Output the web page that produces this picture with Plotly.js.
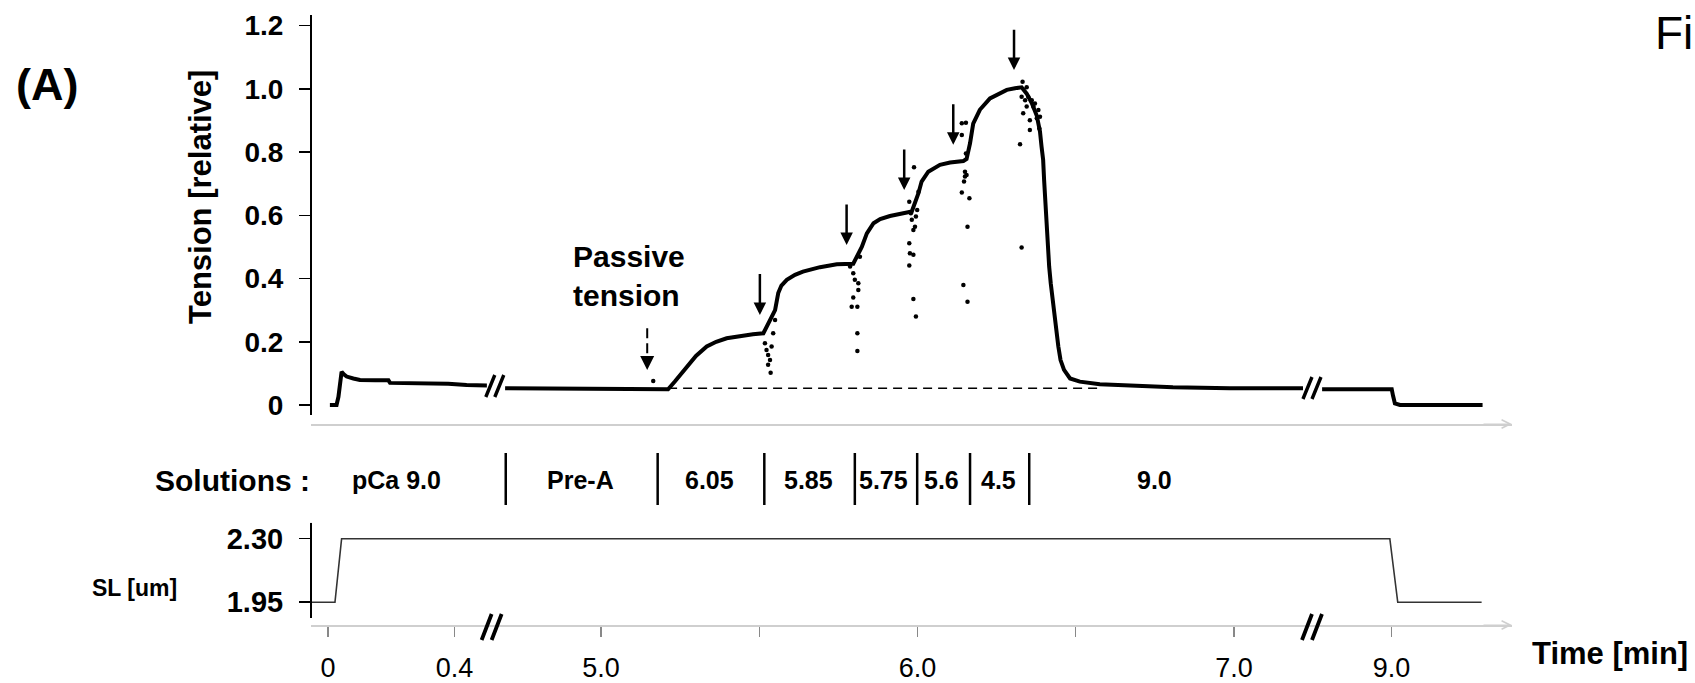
<!DOCTYPE html>
<html>
<head>
<meta charset="utf-8">
<script src="https://cdn.plot.ly/plotly-3.0.1.min.js"></script>
<style>
html,body{margin:0;padding:0;background:#fff;}
#chart{width:1695px;height:683px;}
</style>
</head>
<body>
<div id="chart"></div>
<script>
// ---------------- DATA (time in minutes, real time of the recording) ----------------
// Main tension trace (relative tension)
const tensionTime = [
  0.006, 0.017, 0.027, 0.033, 0.038, 0.043, 0.050, 0.059, 0.080, 0.101, 0.150, 0.191, 0.196, 0.291, 0.380, 0.438, 0.502,
  4.697, 4.850, 4.997, 5.100, 5.164, 5.186, 5.212, 5.234, 5.252, 5.271, 5.300, 5.334, 5.364, 5.397, 5.439, 5.480, 5.513,
  5.550, 5.560, 5.570, 5.587, 5.613, 5.638, 5.692, 5.745, 5.797,
  5.824, 5.840, 5.861, 5.882, 5.913, 5.945, 5.982,
  6.003, 6.013, 6.034, 6.071, 6.103, 6.145, 6.155,
  6.166, 6.176, 6.197, 6.229, 6.261, 6.282, 6.308, 6.329, 6.345, 6.361, 6.377,
  6.387, 6.392, 6.397, 6.400, 6.403, 6.406, 6.408, 6.413, 6.416, 6.421, 6.427, 6.431, 6.437, 6.445, 6.452, 6.463, 6.482,
  6.513, 6.576, 6.629, 6.807, 6.987, 7.218,
  8.781, 8.900, 9.001, 9.005, 9.011, 9.027, 9.150, 9.288
];
const tensionValue = [
  0.000, 0.000, 0.000, 0.026, 0.058, 0.105, 0.097, 0.090, 0.084, 0.079, 0.078, 0.078, 0.070, 0.069, 0.067, 0.063, 0.062,
  0.053, 0.053, 0.053, 0.053, 0.052, 0.050, 0.050, 0.075, 0.098, 0.121, 0.155, 0.185, 0.200, 0.211, 0.219, 0.224, 0.227,
  0.300, 0.354, 0.378, 0.396, 0.412, 0.422, 0.436, 0.445, 0.447,
  0.500, 0.543, 0.575, 0.588, 0.598, 0.605, 0.612,
  0.670, 0.707, 0.738, 0.760, 0.767, 0.772, 0.778,
  0.828, 0.890, 0.934, 0.970, 0.988, 0.997, 1.002, 1.005, 0.985, 0.955, 0.915,
  0.865, 0.817, 0.775, 0.712, 0.649, 0.607, 0.543, 0.480, 0.438, 0.385, 0.332, 0.290, 0.237, 0.185, 0.142, 0.111, 0.084,
  0.074, 0.066, 0.063, 0.056, 0.053, 0.053,
  0.050, 0.050, 0.050, 0.030, 0.005, 0.000, 0.000, 0.000
];
// Scattered artefact points around the solution exchanges
const noiseTime = [
  5.165,
  5.518, 5.523, 5.528, 5.534, 5.528, 5.536, 5.539, 5.544, 5.550,
  5.787, 5.797, 5.802, 5.813, 5.792, 5.810, 5.797, 5.813, 5.810, 5.810, 5.818,
  5.974, 5.979, 5.982, 5.987, 5.992, 5.995, 5.974, 5.976, 5.987, 5.974, 5.987, 5.995, 5.989, 5.999, 6.003,
  6.140, 6.140, 6.153, 6.153, 6.150, 6.155, 6.147, 6.140, 6.164, 6.158, 6.145, 6.158, 6.150,
  6.332, 6.345, 6.329, 6.340, 6.350, 6.361, 6.371, 6.382, 6.334, 6.355, 6.377, 6.385, 6.355, 6.324, 6.329, 6.366, 6.345, 6.387
];
const noiseValue = [
  0.076,
  0.195, 0.174, 0.158, 0.142, 0.127, 0.102, 0.185, 0.227, 0.269,
  0.438, 0.417, 0.396, 0.385, 0.311, 0.311, 0.340, 0.364, 0.227, 0.171, 0.469,
  0.643, 0.607, 0.586, 0.554, 0.564, 0.596, 0.512, 0.480, 0.475, 0.441, 0.335, 0.280, 0.752, 0.617, 0.675,
  0.891, 0.854, 0.893, 0.796, 0.738, 0.728, 0.707, 0.672, 0.654, 0.564, 0.380, 0.327, 0.723,
  1.023, 1.005, 0.975, 0.964, 0.975, 0.964, 0.954, 0.933, 0.923, 0.901, 0.907, 0.875, 0.870, 0.825, 0.498, 0.944, 0.944, 0.912
];
// Sarcomere length trace
const slTime  = [-0.057, 0.022, 0.043, 8.995, 9.020, 9.285];
const slValue = [1.95, 1.95, 2.30, 2.30, 1.95, 1.95];

// Solutions
const solutionLabels = ['pCa 9.0', 'Pre-A', '6.05', '5.85', '5.75', '5.6', '4.5', '9.0'];
const solutionLabelTime = [0.217, 4.934, 5.344, 5.655, 5.892, 6.076, 6.255, 6.749];
const solutionChangeTime = [4.699, 5.179, 5.516, 5.802, 5.999, 6.166, 6.353];

// Arrows (steady-state markers) : time, tip value, tail value
const arrowTime = [5.502, 5.776, 5.958, 6.113, 6.305];
const arrowTip  = [0.285, 0.506, 0.680, 0.823, 1.060];
const arrowTail = [0.419, 0.639, 0.813, 0.956, 1.192];
const passiveArrowTime = 5.146, passiveArrowTip = 0.111, passiveArrowTail = 0.243;
const passiveLevel = 0.053, passiveLineStart = 5.212, passiveLineEnd = 6.577;

// Axis ticks
const xTickTime   = [0, 0.4, 5.0, 5.5, 6.0, 6.5, 7.0, 9.0];
const xTickLabels = ['0', '0.4', '5.0', '', '6.0', '', '7.0', '9.0'];
const yTickVals   = [0, 0.2, 0.4, 0.6, 0.8, 1.0, 1.2];
const yTickLabels = ['0', '0.2', '0.4', '0.6', '0.8', '1.0', '1.2'];
const slTickVals   = [1.95, 2.30];
const slTickLabels = ['1.95', '2.30'];

// ---------------- broken time axis ----------------
const BREAK_AXIS = [0.527, 3.109];       // axis positions of the breaks
const SEG_OFFSET = [0, 4.1374, 5.640];   // real time - axis position per segment
function segOf(t){ return t <= BREAK_AXIS[0] ? 0 : (t <= BREAK_AXIS[1] + SEG_OFFSET[1] ? 1 : 2); }
function toAxis(t){ return t - SEG_OFFSET[segOf(t)]; }

function withGaps(ts, vs){
  const x = [], y = [];
  for (let i = 0; i < ts.length; i++){
    if (i > 0 && segOf(ts[i]) !== segOf(ts[i-1])) { x.push(null); y.push(null); }
    x.push(toAxis(ts[i])); y.push(vs[i]);
  }
  return {x, y};
}

// ---------------- layout helpers ----------------
const W = 1695, H = 683;
const FONT = 'Liberation Sans, Arial, sans-serif';
const px = p => p / W;
const py = p => 1 - p / H;

const XR = [-0.0537, 3.741];
const mainTrace = withGaps(tensionTime, tensionValue);

const traces = [
  {type:'scatter', mode:'lines', x: mainTrace.x, y: mainTrace.y, xaxis:'x', yaxis:'y',
   line:{color:'#000', width:4}, connectgaps:false, hoverinfo:'skip', showlegend:false},
  {type:'scatter', mode:'markers', x: noiseTime.map(toAxis), y: noiseValue, xaxis:'x', yaxis:'y',
   marker:{color:'#000', size:4.5}, hoverinfo:'skip', showlegend:false},
  {type:'scatter', mode:'lines', x: slTime.map(toAxis), y: slValue, xaxis:'x2', yaxis:'y2',
   line:{color:'#333', width:1.6}, hoverinfo:'skip', showlegend:false}
];

const shapes = [];
const annotations = [];

// y-axis lines
shapes.push({type:'line', xref:'x domain', yref:'y', x0:0, x1:0, y0:-0.032, y1:1.2338, line:{color:'#000', width:2}});
shapes.push({type:'line', xref:'x2 domain', yref:'y2', x0:0, x1:0, y0:1.863, y1:2.3884, line:{color:'#000', width:2}});

// passive baseline (dashed)
shapes.push({type:'line', xref:'x', yref:'y', x0:toAxis(passiveLineStart), x1:toAxis(passiveLineEnd),
  y0:passiveLevel, y1:passiveLevel, line:{color:'#000', width:1.6, dash:'9px,6px'}});

// passive tension dashed arrow (shaft)
shapes.push({type:'line', xref:'x', yref:'y', x0:toAxis(passiveArrowTime), x1:toAxis(passiveArrowTime),
  y0:passiveArrowTail, y1:passiveArrowTip + 0.03, line:{color:'#000', width:2, dash:'10px,5px'}});
annotations.push({xref:'x', yref:'y', axref:'x', ayref:'y', x:toAxis(passiveArrowTime), y:passiveArrowTip,
  ax:toAxis(passiveArrowTime), ay:passiveArrowTip + 0.04, text:'', showarrow:true,
  arrowhead:2, arrowsize:1.4, arrowwidth:2, arrowcolor:'#000', standoff:0});

// solid arrows
arrowTime.forEach((t, i) => {
  annotations.push({xref:'x', yref:'y', axref:'x', ayref:'y', x:toAxis(t), y:arrowTip[i],
    ax:toAxis(t), ay:arrowTail[i], text:'', showarrow:true,
    arrowhead:2, arrowsize:1, arrowwidth:2.5, arrowcolor:'#000', standoff:0});
});

// axis break marks "//" (paper y-reference so they are not clipped by the plot area)
function breakMark(xa, yPx, hw, hh, gap, w){
  return {type:'path', xref:'x', yref:'paper', xsizemode:'pixel', ysizemode:'pixel', xanchor:xa, yanchor:py(yPx),
    path:`M ${-gap/2-hw},${-hh} L ${-gap/2+hw},${hh} M ${gap/2-hw},${-hh} L ${gap/2+hw},${hh}`,
    line:{color:'#000', width:w}};
}
shapes.push(breakMark(BREAK_AXIS[0], 386, 4.5, 11, 9, 3.4));
shapes.push(breakMark(BREAK_AXIS[1], 388, 4.5, 11, 9, 3.4));
shapes.push(breakMark(BREAK_AXIS[0] - 0.01, 627, 5, 13, 10, 3.8));
shapes.push(breakMark(BREAK_AXIS[1], 627, 5, 13, 10, 3.8));

// arrowheads at the end of the time axes
annotations.push({xref:'x', yref:'y', x:XR[1], y:-0.0601, ax:-30, ay:0, text:'', showarrow:true,
  arrowhead:5, arrowsize:1.4, arrowwidth:1.2, arrowcolor:'#cfcfcf', standoff:0});
annotations.push({xref:'x2', yref:'y2', x:XR[1], y:1.8245, ax:-30, ay:0, text:'', showarrow:true,
  arrowhead:5, arrowsize:1.4, arrowwidth:1.2, arrowcolor:'#cfcfcf', standoff:0});

// solutions row
solutionChangeTime.forEach(t => {
  shapes.push({type:'line', xref:'x', yref:'paper', x0:toAxis(t), x1:toAxis(t), y0:py(505), y1:py(453),
    line:{color:'#000', width:2.5}});
});
solutionLabels.forEach((s, i) => {
  annotations.push({xref:'x', yref:'paper', x:toAxis(solutionLabelTime[i]), y:py(480), text:s, showarrow:false,
    xanchor:'center', yanchor:'middle', font:{family:FONT, size:25, color:'#000', weight:'bold'}});
});
annotations.push({xref:'paper', yref:'paper', x:px(312), y:py(480), text:'Solutions :', showarrow:false,
  xanchor:'right', yanchor:'middle', font:{family:FONT, size:30, color:'#000', weight:'bold'}});

// text labels
annotations.push({xref:'paper', yref:'paper', x:px(200), y:py(197), text:'Tension [relative]', textangle:-90,
  showarrow:false, xanchor:'center', yanchor:'middle', font:{family:FONT, size:31, color:'#000', weight:'bold'}});
annotations.push({xref:'paper', yref:'paper', x:px(134), y:py(588), text:'SL [um]', showarrow:false,
  xanchor:'center', yanchor:'middle', font:{family:FONT, size:23, color:'#000', weight:'bold'}});
annotations.push({xref:'paper', yref:'paper', x:px(1610), y:py(653), text:'Time [min]', showarrow:false,
  xanchor:'center', yanchor:'middle', font:{family:FONT, size:31, color:'#000', weight:'bold'}});
annotations.push({xref:'paper', yref:'paper', x:px(47), y:py(84), text:'(A)', showarrow:false,
  xanchor:'center', yanchor:'middle', font:{family:FONT, size:45, color:'#000', weight:'bold'}});
annotations.push({xref:'paper', yref:'paper', x:px(1695), y:py(33), text:'Fi', showarrow:false,
  xanchor:'right', yanchor:'middle', font:{family:FONT, size:46, color:'#000'}});
annotations.push({xref:'paper', yref:'paper', x:px(571), y:py(276), text:'Passive<br>tension', showarrow:false,
  xanchor:'left', yanchor:'middle', align:'left', font:{family:FONT, size:30, color:'#000', weight:'bold'}});

const layout = {
  width: W, height: H,
  margin: {l:0, r:0, t:0, b:0},
  paper_bgcolor:'#fff', plot_bgcolor:'#fff',
  showlegend:false,
  font:{family:FONT, color:'#000'},
  xaxis: {domain:[px(311), px(1512)], range:XR, anchor:'y', showline:true, linecolor:'#cfcfcf', linewidth:1.5,
          ticks:'', showticklabels:false, showgrid:false, zeroline:false},
  yaxis: {domain:[py(424), py(15)], range:[-0.0601, 1.2338], anchor:'x', showline:false,
          ticks:'outside', ticklen:11, tickwidth:1.5, tickcolor:'#000',
          tickmode:'array', tickvals:yTickVals, ticktext:yTickLabels,
          tickfont:{family:FONT, size:28, color:'#000', weight:'bold'}, ticklabelstandoff:10,
          showgrid:false, zeroline:false},
  xaxis2: {domain:[px(311), px(1512)], range:XR, anchor:'y2', showline:true, linecolor:'#cfcfcf', linewidth:1.5,
          ticks:'outside', ticklen:10, tickwidth:1.5, tickcolor:'#888',
          tickmode:'array', tickvals:xTickTime.map(toAxis), ticktext:xTickLabels,
          tickfont:{family:FONT, size:27, color:'#000'}, ticklabelstandoff:8,
          showgrid:false, zeroline:false},
  yaxis2: {domain:[py(625), py(522.7)], range:[1.8245, 2.3884], anchor:'x2', showline:false,
          ticks:'outside', ticklen:11, tickwidth:1.5, tickcolor:'#000',
          tickmode:'array', tickvals:slTickVals, ticktext:slTickLabels,
          tickfont:{family:FONT, size:29, color:'#000', weight:'bold'}, ticklabelstandoff:10,
          showgrid:false, zeroline:false},
  shapes, annotations
};

Plotly.newPlot('chart', traces, layout, {displayModeBar:false, staticPlot:true});
</script>
</body>
</html>
